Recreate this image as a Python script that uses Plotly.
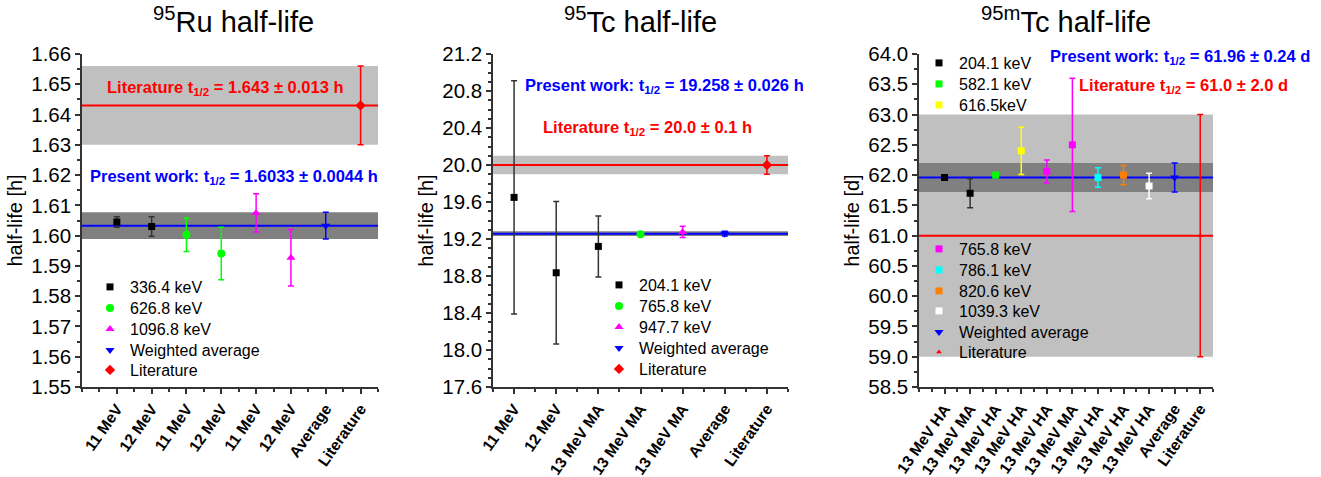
import plotly.graph_objects as go
from plotly.subplots import make_subplots

W, H = 1321, 477
FONT = "Liberation Sans"

# ---- 95Ru panel ----
ru_cats = ["11 MeV", "12 MeV", "11 MeV", "12 MeV", "11 MeV", "12 MeV", "Average", "Literature"]
ru_series = [
    # name, x, y, err, colour, symbol
    ("336.4 keV", [1, 2], [1.6045, 1.6030], [0.0017, 0.0032], "#000000", "square"),
    ("626.8 keV", [3, 4], [1.6003, 1.5941], [0.0055, 0.0087], "#00ff00", "circle"),
    ("1096.8 keV", [5, 6], [1.6075, 1.5927], [0.0063, 0.0093], "#ff00ff", "triangle-up"),
    ("Weighted average", [7], [1.6033], [0.0044], "#0000ff", "triangle-down"),
    ("Literature", [8], [1.643], [0.013], "#ff0000", "diamond"),
]
ru_avg, ru_avg_err = 1.6033, 0.0044
ru_lit, ru_lit_err = 1.643, 0.013

# ---- 95Tc panel ----
tc_cats = ["11 MeV", "12 MeV", "13 MeV MA", "13 MeV MA", "13 MeV MA", "Average", "Literature"]
tc_series = [
    ("204.1 keV", [1, 2, 3], [19.65, 18.835, 19.12], [1.26, 0.77, 0.33], "#000000", "square"),
    ("765.8 keV", [4], [19.252], [0.02], "#00ff00", "circle"),
    ("947.7 keV", [5], [19.277], [0.06], "#ff00ff", "triangle-up"),
    ("Weighted average", [6], [19.258], [0.026], "#0000ff", "triangle-down"),
    ("Literature", [7], [20.0], [0.1], "#ff0000", "diamond"),
]
tc_avg, tc_avg_err = 19.258, 0.026
tc_lit, tc_lit_err = 20.0, 0.1

# ---- 95mTc panel ----
tcm_cats = ["13 MeV HA", "13 MeV MA", "13 MeV HA", "13 MeV HA", "13 MeV HA", "13 MeV MA",
            "13 MeV HA", "13 MeV HA", "13 MeV HA", "Average", "Literature"]
tcm_series = [
    ("204.1 keV", [1, 2], [61.96, 61.70], [0.02, 0.24], "#000000", "square"),
    ("582.1 keV", [3], [62.00], [0.04], "#00ff00", "square"),
    ("616.5keV", [4], [62.40], [0.39], "#ffff00", "square"),
    ("765.8 keV", [5, 6], [62.06, 62.50], [0.19, 1.10], "#ff00ff", "square"),
    ("786.1 keV", [7], [61.96], [0.16], "#00ffff", "square"),
    ("820.6 keV", [8], [62.00], [0.16], "#ff8000", "square"),
    ("1039.3 keV", [9], [61.82], [0.21], "#ffffff", "square"),
    ("Weighted average", [10], [61.96], [0.24], "#0000ff", "triangle-down"),
    ("Literature", [11], [61.0], [2.0], "#ff0000", "triangle-up"),
]
tcm_avg, tcm_avg_err = 61.96, 0.24
tcm_lit, tcm_lit_err = 61.0, 2.0


def px(x):
    return x / W


def py(y):
    return 1 - y / H


fig = make_subplots(rows=1, cols=3)

sizes = {"square": 7, "circle": 8, "triangle-up": 8, "triangle-down": 8, "diamond": 8}

# one small legend per entry, so the rows can sit where the reference has them
# (pixel position of the legend's left edge and row centre)
legend_spots = [
    [(90, 287), (90, 308), (90, 329), (90, 350), (90, 370)],
    [(599, 285), (599, 306), (599, 327), (599, 348), (599, 369)],
    [(919, 63), (919, 84), (919, 105),
     (919, 249), (919, 270), (919, 291), (919, 311), (919, 332), (919, 352)],
]

leg_common = dict(bgcolor="rgba(0,0,0,0)", borderwidth=0, xanchor="left", yanchor="middle",
                  font=dict(family=FONT, size=16, color="#000000"), itemclick=False,
                  itemdoubleclick=False)
legends = {}
n_leg = 0


def add_panel(series, col):
    global n_leg
    for i, (name, x, y, err, colour, sym) in enumerate(series):
        size = sizes[sym]
        if col == 3 and name == "Literature":
            size = 5
        n_leg += 1
        key = "legend" if n_leg == 1 else f"legend{n_leg}"
        lx, ly = legend_spots[col - 1][i]
        legends[key] = dict(x=px(lx), y=py(ly), **leg_common)
        fig.add_trace(go.Scatter(
            x=x, y=y, name=name, mode="markers",
            marker=dict(color=colour, symbol=sym, size=size, line=dict(width=0)),
            error_y=dict(type="data", array=err, color=colour if colour != "#000000" else "#333333",
                         thickness=1.5, width=3),
            legend=key,
        ), row=1, col=col)


add_panel(ru_series, 1)
add_panel(tc_series, 2)
add_panel(tcm_series, 3)

# bands and reference lines
for col, avg, aerr, lit, lerr in [(1, ru_avg, ru_avg_err, ru_lit, ru_lit_err),
                                  (2, tc_avg, tc_avg_err, tc_lit, tc_lit_err),
                                  (3, tcm_avg, tcm_avg_err, tcm_lit, tcm_lit_err)]:
    fig.add_hrect(y0=lit - lerr, y1=lit + lerr, fillcolor="#c0c0c0", line_width=0,
                  layer="below", row=1, col=col)
    fig.add_hrect(y0=avg - aerr, y1=avg + aerr, fillcolor="#808080", line_width=0,
                  layer="below", row=1, col=col)
    fig.add_hline(y=lit, line=dict(color="#ff0000", width=2), layer="below", row=1, col=col)
    fig.add_hline(y=avg, line=dict(color="#0000ff", width=2), layer="below", row=1, col=col)

# axes
ydom = [py(387), py(54)]
xdoms = [[px(82), px(378)], [px(493), px(788)], [px(919), px(1213)]]
xranges = [[0, 8.5], [0.5, 7.5], [0, 11.5]]
cats = [ru_cats, tc_cats, tcm_cats]
yranges = [[1.55, 1.66], [17.6, 21.2], [58.5, 64.0]]
ydticks = [0.01, 0.4, 0.5]
yminor = [0.005, 0.1, 0.25]
yfmt = [".2f", ".1f", ".1f"]
ytitles = ["half-life [h]", "half-life [h]", "half-life [d]"]

axis_common = dict(showline=True, linecolor="#333333", linewidth=1.5, ticks="outside",
                   tickcolor="#333333", tickwidth=1.5, ticklen=5, showgrid=False, zeroline=False,
                   mirror=False, automargin=False)

for i in range(3):
    n = len(cats[i])
    fig.update_xaxes(domain=xdoms[i], range=xranges[i], tickmode="array",
                     tickvals=list(range(1, n + 1)), ticktext=[f"<b>{c}</b>" for c in cats[i]],
                     tickangle=-55, tickfont=dict(family=FONT, size=15.5, color="#000000"),
                     minor=dict(ticks="outside", dtick=0.5, tick0=0, ticklen=3,
                                tickcolor="#333333", tickwidth=1.5),
                     row=1, col=i + 1, **axis_common)
    fig.update_yaxes(domain=ydom, range=yranges[i], dtick=ydticks[i], tick0=yranges[i][0],
                     tickformat=yfmt[i], tickfont=dict(family=FONT, size=20.5, color="#000000"),
                     title=dict(text=ytitles[i], font=dict(family=FONT, size=20, color="#000000"),
                                standoff=3),
                     minor=dict(ticks="outside", dtick=yminor[i], ticklen=3,
                                tickcolor="#333333", tickwidth=1.5),
                     row=1, col=i + 1, **axis_common)

# titles and result labels
titles = [("<sup>95</sup>Ru half-life", 233), ("<sup>95</sup>Tc half-life", 640),
          ("<sup>95m</sup>Tc half-life", 1066)]
annos = []
for text, xc in titles:
    annos.append(dict(text=text, x=px(xc), y=py(20), xref="paper", yref="paper",
                      showarrow=False, xanchor="center", yanchor="middle",
                      font=dict(family=FONT, size=29, color="#000000")))

labels = [
    ("Literature t<sub>1/2</sub> = 1.643 ± 0.013 h", "#ff0000", 226, 88, "center"),
    ("Present work: t<sub>1/2</sub> = 1.6033 ± 0.0044 h", "#0000ff", 234, 177, "center"),
    ("Present work: t<sub>1/2</sub> = 19.258 ± 0.026 h", "#0000ff", 523, 86, "left"),
    ("Literature t<sub>1/2</sub> = 20.0 ± 0.1 h", "#ff0000", 647, 128, "center"),
    ("Present work: t<sub>1/2</sub> = 61.96 ± 0.24 d", "#0000ff", 1048, 57, "left"),
    ("Literature t<sub>1/2</sub> = 61.0 ± 2.0 d", "#ff0000", 1077, 86, "left"),
]
for text, colour, x, y, anchor in labels:
    annos.append(dict(text=f"<b>{text}</b>", x=px(x), y=py(y), xref="paper", yref="paper",
                      showarrow=False, xanchor=anchor, yanchor="middle",
                      font=dict(family=FONT, size=16.5, color=colour)))

fig.update_layout(
    width=W, height=H,
    margin=dict(l=0, r=0, t=0, b=0),
    paper_bgcolor="white", plot_bgcolor="white",
    font=dict(family=FONT, color="#000000"),
    annotations=annos,
    showlegend=True,
    **legends,
)

# the page's default body margin would shift the figure by 8px
fig.write_html("out.html", config={"displayModeBar": False},
               post_script="document.body.style.margin='0';")
